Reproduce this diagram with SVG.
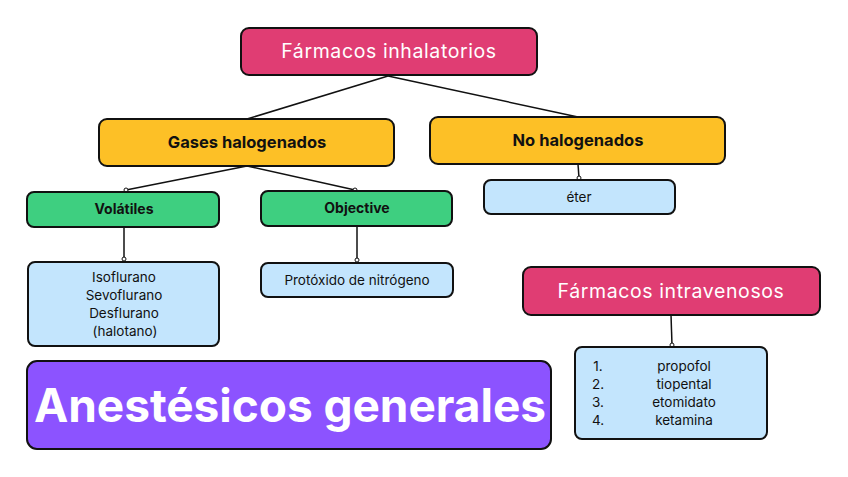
<svg xmlns="http://www.w3.org/2000/svg" width="848" height="477" viewBox="0 0 848 477">
<defs>
<marker id="dot" markerWidth="6" markerHeight="6" refX="3" refY="3" markerUnits="userSpaceOnUse">
<circle cx="3" cy="3" r="2" fill="#fff" stroke="#111" stroke-width="1"/>
</marker>
<style>
.box{stroke:#111;stroke-width:2}
.pink{fill:#E03D73}
.yellow{fill:#FDC026}
.green{fill:#3ECF80}
.blue{fill:#C3E5FD}
.purple{fill:#8C53FF}
text{font-family:Inter,"Noto Sans","Liberation Sans",sans-serif;text-anchor:middle}
.t1{font-size:19.5px;fill:#fff;letter-spacing:0.6px}
.t2{font-size:16.5px;font-weight:bold;fill:#111}
.t3{font-size:14px;font-weight:bold;fill:#111}
.t4{font-size:13.5px;fill:#111}
.big{font-size:46px;font-weight:bold;fill:#fff}
.con{stroke:#111;stroke-width:1.5;fill:none}
</style>
</defs>
<rect width="848" height="477" fill="#fff"/>
<g id="connectors">
<line class="con" x1="388" y1="76" x2="247" y2="119"/>
<line class="con" x1="388" y1="76" x2="578" y2="117"/>
<line class="con" x1="247" y1="166" x2="126" y2="190" marker-end="url(#dot)"/>
<line class="con" x1="247" y1="166" x2="355" y2="190" marker-end="url(#dot)"/>
<line class="con" x1="124" y1="227" x2="124" y2="259" marker-end="url(#dot)"/>
<line class="con" x1="357" y1="226" x2="357" y2="260" marker-end="url(#dot)"/>
<line class="con" x1="578" y1="164" x2="579" y2="178" marker-end="url(#dot)"/>
<line class="con" x1="671" y1="315" x2="672" y2="345" marker-end="url(#dot)"/>
</g>
<g id="inhalatorios">
<rect class="box pink" x="241" y="28" width="296" height="47" rx="8"/>
<text class="t1" x="389" y="58">Fármacos inhalatorios</text>
</g>
<g id="gases">
<rect class="box yellow" x="99" y="119" width="295" height="47" rx="8"/>
<text class="t2" x="247" y="148">Gases halogenados</text>
</g>
<g id="nohalo">
<rect class="box yellow" x="430" y="117" width="295" height="47" rx="8"/>
<text class="t2" x="578" y="146">No halogenados</text>
</g>
<g id="volatiles">
<rect class="box green" x="27" y="192" width="192" height="35" rx="7"/>
<text class="t3" x="124" y="214">Volátiles</text>
</g>
<g id="objective">
<rect class="box green" x="261" y="191" width="191" height="35" rx="7"/>
<text class="t3" x="357" y="213">Objective</text>
</g>
<g id="eter">
<rect class="box blue" x="484" y="180" width="191" height="34" rx="7"/>
<text class="t4" x="579" y="202">éter</text>
</g>
<g id="isoflurano">
<rect class="box blue" x="28" y="262" width="191" height="84" rx="7"/>
<text class="t4" x="124" y="282">Isoflurano</text>
<text class="t4" x="124" y="300">Sevoflurano</text>
<text class="t4" x="124" y="318">Desflurano</text>
<text class="t4" x="125" y="336">(halotano)</text>
</g>
<g id="protoxido">
<rect class="box blue" x="261" y="263" width="192" height="34" rx="7"/>
<text class="t4" x="357" y="285">Protóxido de nitrógeno</text>
</g>
<g id="intravenosos">
<rect class="box pink" x="523" y="267" width="297" height="48" rx="8"/>
<text class="t1" x="671" y="298">Fármacos intravenosos</text>
</g>
<g id="lista">
<rect class="box blue" x="575" y="347" width="192" height="92" rx="7"/>
<text class="t4" x="598" y="371">1.</text>
<text class="t4" x="598" y="389">2.</text>
<text class="t4" x="598" y="407">3.</text>
<text class="t4" x="598" y="425">4.</text>
<text class="t4" x="684" y="371">propofol</text>
<text class="t4" x="684" y="389">tiopental</text>
<text class="t4" x="684" y="407">etomidato</text>
<text class="t4" x="684" y="425">ketamina</text>
</g>
<g id="titulo">
<rect class="box purple" x="27" y="361" width="524" height="88" rx="10"/>
<text class="big" x="290" y="422" textLength="512" lengthAdjust="spacing">Anestésicos generales</text>
</g>
</svg>
